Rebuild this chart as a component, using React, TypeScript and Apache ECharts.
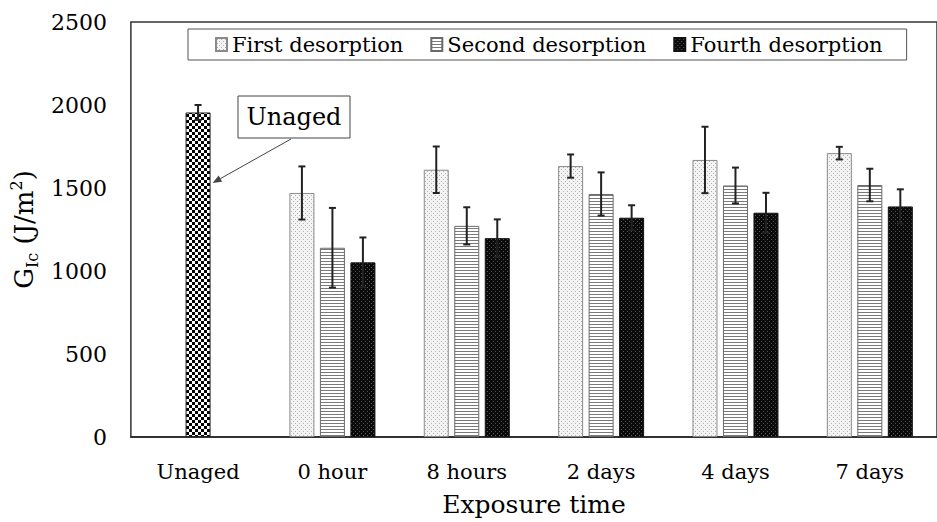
import React, { useEffect, useRef } from 'react';
import * as echarts from 'echarts';

const categories = ['Unaged', '0 hour', '8 hours', '2 days', '4 days', '7 days'];
const legendNames = ['First desorption', 'Second desorption', 'Fourth desorption'];
const unagedValues = [1955, null, null, null, null, null];
const unagedErrors = [45, null, null, null, null, null];
const firstValues = [null, 1470, 1610, 1632, 1669, 1710];
const firstErrors = [null, 160, 140, 70, 200, 38];
const secondValues = [null, 1140, 1272, 1464, 1515, 1518];
const secondErrors = [null, 240, 112, 130, 108, 98];
const fourthValues = [null, 1052, 1198, 1321, 1351, 1389];
const fourthErrors = [null, 150, 113, 75, 120, 103];
const yMin = 0;
const yMax = 2500;
const yInterval = 500;

const FONT = '"DejaVu Serif", "Liberation Serif", serif';
const BAR_W = 25;
const SLOT = 30.5;

function tile(w: number, h: number, draw: (ctx: CanvasRenderingContext2D) => void) {
  const c = document.createElement('canvas');
  c.width = w;
  c.height = h;
  const ctx = c.getContext('2d')!;
  draw(ctx);
  return { image: c, repeat: 'repeat', imageWidth: w, imageHeight: h } as any;
}

function makePatterns() {
  const dots = tile(4, 4, (ctx) => {
    ctx.fillStyle = '#f4f4f4';
    ctx.fillRect(0, 0, 4, 4);
    ctx.fillStyle = '#b0b0b0';
    ctx.fillRect(1, 1, 1, 1);
    ctx.fillRect(3, 3, 1, 1);
  });
  const stripes = tile(4, 3, (ctx) => {
    ctx.fillStyle = '#ffffff';
    ctx.fillRect(0, 0, 4, 3);
    ctx.fillStyle = '#7a7a7a';
    ctx.fillRect(0, 0, 4, 1);
  });
  const dark = tile(4, 4, (ctx) => {
    ctx.fillStyle = '#0a0a0a';
    ctx.fillRect(0, 0, 4, 4);
    ctx.fillStyle = '#5a5a5a';
    ctx.fillRect(1, 1, 1, 1);
    ctx.fillRect(3, 3, 1, 1);
  });
  const checker = tile(6, 6, (ctx) => {
    ctx.fillStyle = '#ffffff';
    ctx.fillRect(0, 0, 6, 6);
    ctx.fillStyle = '#000000';
    ctx.fillRect(0, 0, 3, 3);
    ctx.fillRect(3, 3, 3, 3);
  });
  return { dots, stripes, dark, checker };
}

function errData(values: (number | null)[], errors: (number | null)[], offset: number) {
  const out: any[] = [];
  values.forEach((v, i) => {
    if (v != null && errors[i] != null) out.push([i, v, errors[i], offset]);
  });
  return out;
}

export default function App() {
  const ref = useRef<HTMLDivElement>(null);
  useEffect(() => {
    document.body.style.margin = '0';
    const chart = echarts.init(ref.current!, null, { renderer: 'svg' });
    const p = makePatterns();
    const errorSeries = {
      type: 'custom',
      z: 5,
      silent: true,
      encode: { x: 0, y: 1 },
      renderItem: (params: any, api: any) => {
        const c = api.value(0);
        const v = api.value(1);
        const e = api.value(2);
        const off = api.value(3);
        const top = api.coord([c, v + e]);
        const bot = api.coord([c, v - e]);
        const x = top[0] + off;
        const st = { stroke: '#222', lineWidth: 2 };
        return {
          type: 'group',
          children: [
            { type: 'line', shape: { x1: x, y1: top[1], x2: x, y2: bot[1] }, style: st },
            { type: 'line', shape: { x1: x - 3.5, y1: top[1], x2: x + 3.5, y2: top[1] }, style: st },
            { type: 'line', shape: { x1: x - 3.5, y1: bot[1], x2: x + 3.5, y2: bot[1] }, style: st },
          ],
        };
      },
      data: [
        ...errData(unagedValues, unagedErrors, 0),
        ...errData(firstValues, firstErrors, -SLOT),
        ...errData(secondValues, secondErrors, 0),
        ...errData(fourthValues, fourthErrors, SLOT),
      ],
    };
    chart.setOption({
      animation: false,
      textStyle: { fontFamily: FONT },
      grid: {
        left: 125,
        top: 22,
        width: 813,
        height: 427,
        show: true,
        borderColor: '#333',
        borderWidth: 1.5,
      },
      legend: {
        data: legendNames,
        left: 188,
        top: 29,
        padding: [5, 24, 5, 27],
        itemGap: 27,
        itemWidth: 11,
        itemHeight: 13,
        icon: 'rect',
        borderColor: '#555',
        borderWidth: 1,
        textStyle: { fontFamily: FONT, fontSize: 21, color: '#000' },
      },
      xAxis: {
        type: 'category',
        data: categories,
        axisTick: { show: false },
        axisLine: { lineStyle: { color: '#222', width: 1.5 } },
        axisLabel: { fontFamily: FONT, fontSize: 21, color: '#000', margin: 24 },
        name: 'Exposure time',
        nameLocation: 'middle',
        nameGap: 55,
        nameTextStyle: { fontFamily: FONT, fontSize: 25, color: '#000' },
      },
      yAxis: {
        type: 'value',
        min: yMin,
        max: yMax,
        interval: yInterval,
        splitLine: { show: false },
        axisLine: { show: false },
        axisTick: { show: false },
        axisLabel: {
          fontFamily: FONT,
          fontSize: 22,
          color: '#000',
          margin: 24,
          formatter: (v: number) => String(v),
        },
        name: '{a|G}{b|Ic}{a| (J/m}{c|2}{a|)}',
        nameLocation: 'middle',
        nameRotate: 90,
        nameGap: 84,
        nameTextStyle: {
          fontFamily: FONT,
          color: '#000',
          rich: {
            a: { fontFamily: FONT, fontSize: 26, lineHeight: 32, color: '#000' },
            b: { fontFamily: FONT, fontSize: 16, lineHeight: 18, verticalAlign: 'bottom', color: '#000' },
            c: { fontFamily: FONT, fontSize: 16, lineHeight: 18, verticalAlign: 'top', color: '#000' },
          },
        },
      },
      series: [
        {
          name: 'First desorption',
          type: 'bar',
          barWidth: BAR_W,
          barGap: '22%',
          data: firstValues,
          itemStyle: { color: p.dots, borderColor: '#8a8a8a', borderWidth: 1 },
        },
        {
          name: 'Second desorption',
          type: 'bar',
          stack: 'mid',
          barWidth: BAR_W,
          barGap: '22%',
          data: secondValues,
          itemStyle: { color: p.stripes, borderColor: '#6a6a6a', borderWidth: 1 },
        },
        {
          name: 'Unaged',
          type: 'bar',
          stack: 'mid',
          barWidth: BAR_W,
          barGap: '22%',
          data: unagedValues,
          itemStyle: { color: p.checker, borderColor: '#222', borderWidth: 1 },
        },
        {
          name: 'Fourth desorption',
          type: 'bar',
          barWidth: BAR_W,
          barGap: '22%',
          data: fourthValues,
          itemStyle: { color: p.dark, borderColor: '#111', borderWidth: 1 },
        },
        errorSeries,
      ],
    });
    const tipA = chart.convertToPixel({ xAxisIndex: 0, yAxisIndex: 0 }, [0, 1530]) as number[];
    const ax = tipA[0] + BAR_W / 2 + 2;
    const ay = tipA[1];
    const bx = 291;
    const by = 139;
    const ang = Math.atan2(ay - by, ax - bx);
    const hl = 9;
    const hw = 3.5;
    const baseX = ax - hl * Math.cos(ang);
    const baseY = ay - hl * Math.sin(ang);
    chart.setOption({
      graphic: [
        {
          type: 'rect',
          shape: { x: 238, y: 96, width: 112, height: 42 },
          style: { fill: '#fff', stroke: '#444', lineWidth: 1 },
          z: 10,
        },
        {
          type: 'text',
          x: 294,
          y: 117,
          style: { text: 'Unaged', font: `24px ${FONT}`, fill: '#000', textAlign: 'center', textVerticalAlign: 'middle' },
          z: 11,
        },
        {
          type: 'line',
          shape: { x1: bx, y1: by, x2: baseX, y2: baseY },
          style: { stroke: '#444', lineWidth: 1 },
          z: 10,
        },
        {
          type: 'polygon',
          shape: {
            points: [
              [ax, ay],
              [baseX + hw * Math.sin(ang), baseY - hw * Math.cos(ang)],
              [baseX - hw * Math.sin(ang), baseY + hw * Math.cos(ang)],
            ],
          },
          style: { fill: '#444' },
          z: 10,
        },
      ],
    });
    return () => chart.dispose();
  }, []);
  return <div ref={ref} style={{ width: 937, height: 522 }} />;
}
